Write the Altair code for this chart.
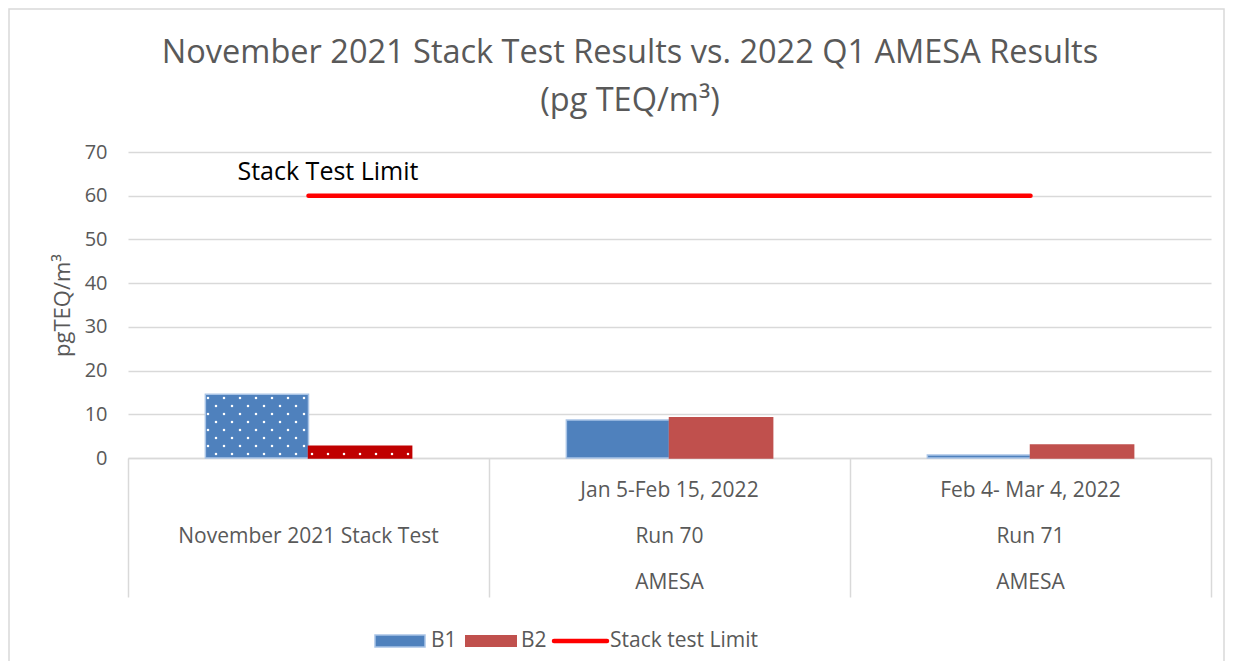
import altair as alt
import pandas as pd

# ---- data ----
categories = ["November 2021 Stack Test", "Run 70", "Run 71"]
row1_labels = ["", "Jan 5-Feb 15, 2022", "Feb 4- Mar 4, 2022"]
row3_labels = ["", "AMESA", "AMESA"]
series = ["B1", "B2"]
b1_values = [14.6, 8.7, 0.7]
b2_values = [2.7, 9.2, 3.0]
limit_values = [60, 60, 60]
patterned = [True, False, False]
legend_labels = ["B1", "B2", "Stack test Limit"]
y_ticks = [0, 10, 20, 30, 40, 50, 60, 70]
title_lines = ["November 2021 Stack Test Results vs. 2022 Q1 AMESA Results", "(pg TEQ/m³)"]

# ---- styling ----
W, H = 1083, 306
FONT = "Open Sans"
GRAY = "#595959"
LINE = "#d9d9d9"
BLUE = "#4f81bd"
RED = "#c0504d"
DARKRED = "#c00000"
LIMIT = "#ff0000"

rows = []
for i, c in enumerate(categories):
    rows.append(dict(category=c, series="B1", value=b1_values[i], idx=i,
                     pattern=patterned[i], fill=BLUE, edge="#a9c4e6"))
    rows.append(dict(category=c, series="B2", value=b2_values[i], idx=i,
                     pattern=patterned[i], fill=DARKRED if patterned[i] else RED,
                     edge=DARKRED if patterned[i] else RED))
bars_df = pd.DataFrame(rows)
limit_df = pd.DataFrame({"category": categories, "limit": limit_values})
labels_df = pd.DataFrame({"category": categories, "r1": row1_labels,
                          "r2": categories, "r3": row3_labels})
ann_df = pd.DataFrame({"category": [categories[0]], "limit": [limit_values[0]],
                       "text": ["Stack Test Limit"]})
one = pd.DataFrame({"k": [0]})

xscale = alt.Scale(type="band", domain=categories, paddingInner=0, paddingOuter=0)
yscale = alt.Scale(domain=[0, 70], nice=False)
y_axis = alt.Axis(values=y_ticks, title="pgTEQ/m³", grid=True, gridColor=LINE,
                  gridWidth=1.5, domain=False, ticks=False, labelPadding=21,
                  labelFontSize=20, labelColor=GRAY, titleFontSize=22,
                  titleColor=GRAY, titleFontWeight="normal", titleX=-66,
                  titleY=H / 2, titleAngle=270, titleAlign="center",
                  titleBaseline="middle")

x_enc = alt.X("category:N", scale=xscale, sort=categories,
              axis=alt.Axis(labels=False, title=None, domain=True, domainColor=LINE,
                            domainWidth=1.5, ticks=True, tickBand="extent",
                            tickSize=139, tickColor=LINE, tickWidth=1.5, grid=False))

bars = alt.Chart(bars_df).mark_bar(strokeWidth=1.5).encode(
    x=x_enc,
    xOffset=alt.XOffset("series:N", sort=series,
                        scale=alt.Scale(paddingOuter=0.75, paddingInner=0)),
    y=alt.Y("value:Q", scale=yscale, axis=y_axis),
    fill=alt.Fill("fill:N", scale=None),
    stroke=alt.Stroke("edge:N", scale=None),
)

limit_line = alt.Chart(limit_df).mark_line(color=LIMIT, strokeWidth=4.5, strokeCap="round").encode(
    x=alt.X("category:N", scale=xscale, sort=categories),
    y=alt.Y("limit:Q", scale=yscale, axis=y_axis),
)

annotation = alt.Chart(ann_df).mark_text(align="left", baseline="middle", dx=-71, dy=-24,
                                         fontSize=25, color="#000000").encode(
    x=alt.X("category:N", scale=xscale, sort=categories),
    y=alt.Y("limit:Q", scale=yscale, axis=y_axis),
    text="text:N",
)

def label_row(field, ypix):
    return alt.Chart(labels_df).mark_text(fontSize=21, color=GRAY, baseline="middle").encode(
        x=alt.X("category:N", scale=xscale, sort=categories),
        y=alt.value(ypix),
        text=f"{field}:N",
    )

labels = label_row("r1", 339) + label_row("r2", 385) + label_row("r3", 431)

# title drawn as text (two lines)
title = (alt.Chart(one).mark_text(fontSize=32.5, color=GRAY, baseline="middle").encode(
            x=alt.value(502), y=alt.value(-99), text=alt.value(title_lines[0]))
         + alt.Chart(one).mark_text(fontSize=32.5, color=GRAY, baseline="middle").encode(
            x=alt.value(502), y=alt.value(-51), text=alt.value(title_lines[1])))

# manual legend
leg_y = 489
leg_b1 = alt.Chart(one).mark_rect(fill=BLUE, stroke="#a9c4e6", strokeWidth=1.5).encode(
    x=alt.value(247), x2=alt.value(297), y=alt.value(leg_y - 6), y2=alt.value(leg_y + 6))
leg_b2 = alt.Chart(one).mark_rect(fill=RED).encode(
    x=alt.value(337), x2=alt.value(389), y=alt.value(leg_y - 6), y2=alt.value(leg_y + 6))
leg_line = alt.Chart(one).mark_rule(color=LIMIT, strokeWidth=4.5, strokeCap="round").encode(
    x=alt.value(426), x2=alt.value(479), y=alt.value(leg_y))
def leg_text(txt, xpix):
    return alt.Chart(one).mark_text(align="left", baseline="middle", fontSize=21, color=GRAY).encode(
        x=alt.value(xpix), y=alt.value(leg_y), text=alt.value(txt))
legend = (leg_b1 + leg_text(legend_labels[0], 303) + leg_b2 + leg_text(legend_labels[1], 393)
          + leg_line + leg_text(legend_labels[2], 482))

border = alt.Chart(one).mark_rect(fillOpacity=0, stroke=LINE, strokeWidth=1.5).encode(
    x=alt.value(-119), x2=alt.value(1096), y=alt.value(-143), y2=alt.value(520))

main = alt.layer(border, bars, limit_line, annotation, labels, title, legend)

# white dot pattern on the first group's bars, computed from the bar values
bw = W / 3 / 3.5
dots = alt.Chart(bars_df).transform_filter(
    alt.datum.pattern == True
).transform_calculate(
    cx=f"(datum.idx + 0.5) * {W / 3}",
).transform_calculate(
    x0=f"datum.series == 'B1' ? datum.cx - {bw} : datum.cx",
    hpx=f"datum.value / 70 * {H}",
    rr="sequence(0, 40)",
).transform_flatten(["rr"]).transform_calculate(
    cc="sequence(0, 70)"
).transform_flatten(["cc"]).transform_calculate(
    py="4 + 8 * datum.rr",
    px="80 + 16 * datum.cc + (datum.rr % 2 == 0 ? 8 : 0)",
).transform_filter(
    f"datum.px >= datum.x0 + 1 && datum.px <= datum.x0 + {bw} - 1 && datum.py <= datum.hpx - 1"
).transform_calculate(
    yv=f"datum.py * 70 / {H}"
).mark_square(size=5, color="white", opacity=1).encode(
    x=alt.X("px:Q", scale=alt.Scale(domain=[0, W], nice=False, zero=False), axis=None),
    y=alt.Y("yv:Q", scale=yscale, axis=y_axis),
)

chart = alt.layer(main, dots).resolve_scale(x="independent").properties(
    width=W, height=H,
    autosize=alt.AutoSizeParams(type="none"),
    padding={"left": 120, "top": 144, "right": 22, "bottom": 203},
).configure(font=FONT).configure_view(stroke=None).configure_text(font=FONT)

chart.save("out.html", embed_options={"renderer": "svg", "actions": False})
